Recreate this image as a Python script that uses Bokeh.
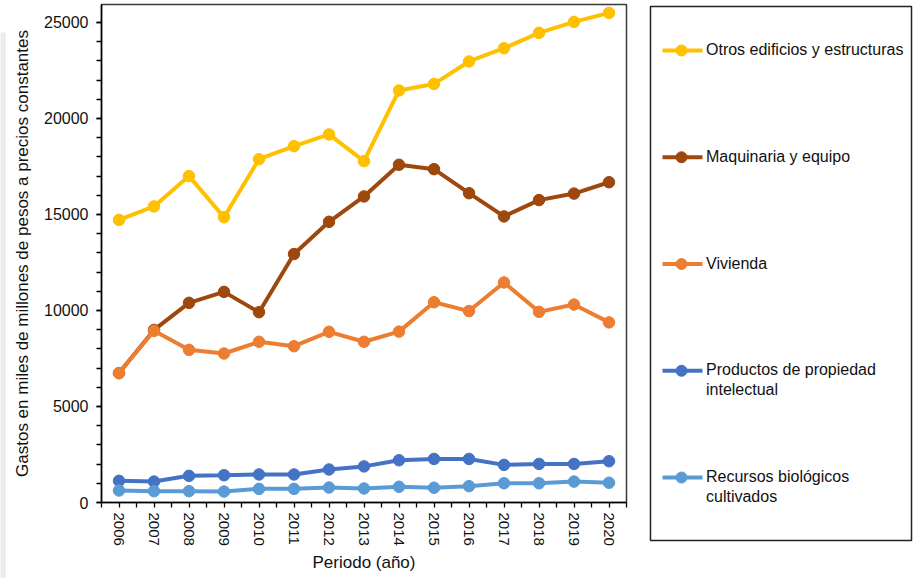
from bokeh.plotting import figure
from bokeh.layouts import row, column
from bokeh.models import Range1d, FixedTicker, SingleIntervalTicker
from bokeh.core.properties import value
from bokeh.embed import file_html
from bokeh.resources import INLINE

years = list(range(2006, 2021))
otros = [14720, 15420, 17000, 14860, 17880, 18560, 19170, 17780, 21460, 21800, 22970, 23660, 24460, 25030, 25500]
maquinaria = [6740, 8990, 10400, 10970, 9910, 12940, 14620, 15940, 17590, 17360, 16110, 14900, 15750, 16090, 16680]
vivienda = [6740, 8940, 7950, 7760, 8370, 8140, 8890, 8370, 8900, 10430, 9970, 11460, 9930, 10310, 9380]
productos = [1130, 1090, 1390, 1420, 1460, 1460, 1720, 1880, 2200, 2270, 2270, 1960, 2010, 2010, 2150]
recursos = [625, 590, 590, 570, 710, 710, 780, 730, 820, 770, 850, 1000, 1000, 1090, 1030]

series_names = [["Otros edificios y estructuras"], ["Maquinaria y equipo"], ["Vivienda"],
                ["Productos de propiedad", "intelectual"], ["Recursos biológicos", "cultivados"]]
series_values = [otros, maquinaria, vivienda, productos, recursos]
series_colors = ["#FFC000", "#9E480E", "#ED7D31", "#4472C4", "#5B9BD5"]

FONT = value("Liberation Sans")
TXT = "#111111"

# thin grey band at the far left
band = figure(width=6, height=578, x_range=Range1d(0, 1), y_range=Range1d(0, 1),
              output_backend="svg", toolbar_location=None,
              min_border_left=0, min_border_right=0, min_border_top=32, min_border_bottom=0)
band.axis.visible = False
band.grid.visible = False
band.outline_line_color = None
band.background_fill_color = "#ececec"
band.border_fill_color = "white"

p = figure(width=638, height=578, x_range=Range1d(2005.5, 2020.5), y_range=Range1d(0, 25937),
           output_backend="svg", toolbar_location=None,
           min_border_left=95, min_border_right=18, min_border_top=4, min_border_bottom=76)
p.xgrid.visible = False
p.ygrid.visible = False
p.outline_line_color = "#3a3a3a"
p.outline_line_width = 1.5
p.background_fill_color = "white"
p.border_fill_color = "white"

for vals, col in zip(series_values, series_colors):
    p.line(years, vals, line_color=col, line_width=4)
    p.scatter(years, vals, marker="circle", size=11.5, fill_color=col, line_color=col)

xa = p.xaxis[0]
xa.ticker = FixedTicker(ticks=years, minor_ticks=[y - 0.5 for y in years] + [years[-1] + 0.5])
xa.major_label_orientation = "vertical"
xa.major_tick_in = 0
xa.major_tick_out = 5
xa.minor_tick_in = 0
xa.minor_tick_out = 5
xa.major_tick_line_color = "black"
xa.minor_tick_line_color = "black"
xa.major_tick_line_width = 1.3
xa.minor_tick_line_width = 1.3
xa.axis_line_width = 1.5
xa.axis_line_color = "black"
xa.major_label_text_font = "Liberation Sans"
xa.major_label_text_font_size = "15px"
xa.major_label_text_color = TXT
xa.major_label_standoff = 5
xa.axis_label = "Periodo (año)"
xa.axis_label_text_font = "Liberation Sans"
xa.axis_label_text_font_size = "17px"
xa.axis_label_text_font_style = "normal"
xa.axis_label_text_color = TXT
xa.axis_label_standoff = 4

ya = p.yaxis[0]
ya.ticker = SingleIntervalTicker(interval=5000, num_minor_ticks=5)
ya.major_tick_in = 0
ya.major_tick_out = 5
ya.minor_tick_in = 0
ya.minor_tick_out = 5
ya.major_tick_line_color = "black"
ya.minor_tick_line_color = "black"
ya.major_tick_line_width = 1.3
ya.minor_tick_line_width = 1.3
ya.axis_line_width = 1.5
ya.axis_line_color = "black"
ya.major_label_text_font = "Liberation Sans"
ya.major_label_text_font_size = "16px"
ya.major_label_text_color = TXT
ya.major_label_standoff = 8
ya.axis_label = "Gastos en miles de millones de pesos a precios constantes"
ya.axis_label_text_font = "Liberation Sans"
ya.axis_label_text_font_size = "17px"
ya.axis_label_text_font_style = "normal"
ya.axis_label_text_color = TXT
ya.axis_label_standoff = 9

# legend panel
lf = figure(width=274, height=578, x_range=Range1d(0, 261), y_range=Range1d(534, 0),
            output_backend="svg", toolbar_location=None,
            min_border_left=6, min_border_right=7, min_border_top=6, min_border_bottom=38)
lf.axis.visible = False
lf.grid.visible = False
lf.outline_line_color = "#222222"
lf.outline_line_width = 1.5

for i, (names, col) in enumerate(zip(series_names, series_colors)):
    yc = 44 + 106.75 * i
    lf.line([12, 52], [yc, yc], line_color=col, line_width=4)
    lf.scatter([31], [yc], marker="circle", size=11, fill_color=col, line_color=col)
    for j, nm in enumerate(names):
        lf.text([55.5], [yc - 1 + 20 * j], text=[nm], text_font=FONT, text_font_size="16px",
                text_baseline="middle", text_align="left", text_color=TXT)

layout = row(column(band), column(p), column(lf))
open("out.html", "w").write(file_html(layout, INLINE))
